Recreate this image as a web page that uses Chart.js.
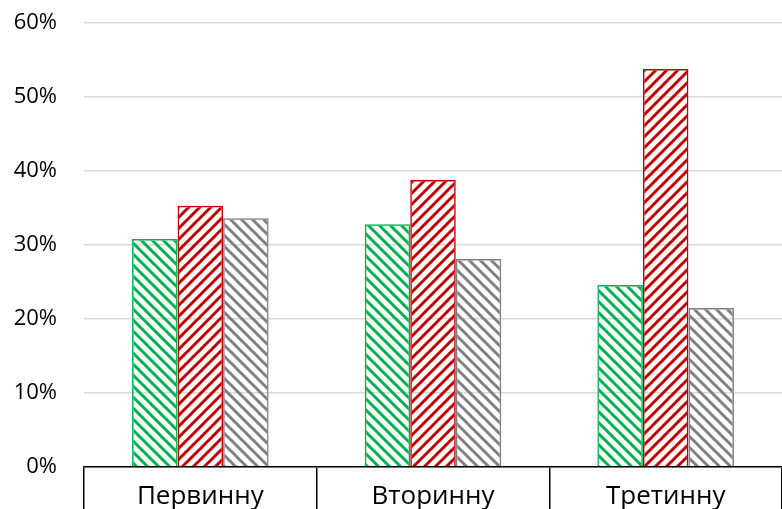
<!DOCTYPE html>
<html>
<head>
<meta charset="utf-8">
<script src="https://cdn.jsdelivr.net/npm/chart.js@4"></script>
<style>
  html, body { margin: 0; padding: 0; background: #fff; }
  #myChart { display: block; }
</style>
</head>
<body>
<canvas id="myChart" width="782" height="509"></canvas>
<script>
// data (percent)
var categories = ['Первинну', 'Вторинну', 'Третинну'];
var greenValues = [30.8, 32.8, 24.6];
var redValues = [35.3, 38.8, 53.8];
var grayValues = [33.6, 28.1, 21.5];
var yMax = 60;
var yStep = 10;

// diagonal hatch fill, like the excel pattern fill
function hatch(color, up) {
  var n = 11;
  var c = document.createElement('canvas');
  c.width = n; c.height = n;
  var g = c.getContext('2d');
  g.strokeStyle = color;
  g.lineWidth = 3;
  g.beginPath();
  if (up) {
    g.moveTo(-2, n + 2); g.lineTo(n + 2, -2);
    g.moveTo(-2, 2); g.lineTo(2, -2);
    g.moveTo(n - 2, n + 2); g.lineTo(n + 2, n - 2);
  } else {
    g.moveTo(-2, -2); g.lineTo(n + 2, n + 2);
    g.moveTo(-2, n - 2); g.lineTo(2, n + 2);
    g.moveTo(n - 2, -2); g.lineTo(n + 2, 2);
  }
  g.stroke();
  return g.createPattern(c, 'repeat');
}

var green = '#00b050';
var red = '#c00000';
var gray = '#808080';

var ctx = document.getElementById('myChart').getContext('2d');
var myChart = new Chart(ctx, {
  type: 'bar',
  data: {
    labels: categories,
    datasets: [{
      data: greenValues,
      backgroundColor: hatch(green, false),
      borderColor: green,
      borderWidth: 1.5
    }, {
      data: redValues,
      backgroundColor: hatch(red, true),
      borderColor: red,
      borderWidth: 1.5
    }, {
      data: grayValues,
      backgroundColor: hatch(gray, false),
      borderColor: gray,
      borderWidth: 1.5
    }]
  },
  options: {
    responsive: false,
    devicePixelRatio: 1,
    animation: false,
    categoryPercentage: 0.587,
    barPercentage: 1,
    layout: { padding: { top: 23, right: 0, bottom: 0, left: 0 } },
    plugins: {
      legend: { display: false },
      title: { display: false },
      tooltip: { enabled: false }
    },
    scales: {
      x: {
        offset: true,
        afterFit: function(s) { s.height = 42; },
        grid: {
          display: true,
          offset: true,
          drawOnChartArea: false,
          drawTicks: true,
          tickLength: 42,
          color: '#000',
          lineWidth: 1.5
        },
        border: { display: true, color: '#000', width: 1.5 },
        ticks: {
          color: '#000',
          padding: -28,
          maxRotation: 0,
          font: { family: 'Open Sans', size: 26 }
        }
      },
      y: {
        min: 0,
        max: yMax,
        afterFit: function(s) { s.width = 84; },
        grid: { color: '#d9d9d9', lineWidth: 1.5, drawTicks: true, tickLength: 27, tickColor: 'rgba(0,0,0,0)' },
        border: { display: false },
        ticks: {
          stepSize: yStep,
          color: '#000',
          padding: 0,
          font: { family: 'Open Sans', size: 22 },
          callback: function(v) { return v + '%'; }
        }
      }
    }
  }
});
</script>
</body>
</html>
